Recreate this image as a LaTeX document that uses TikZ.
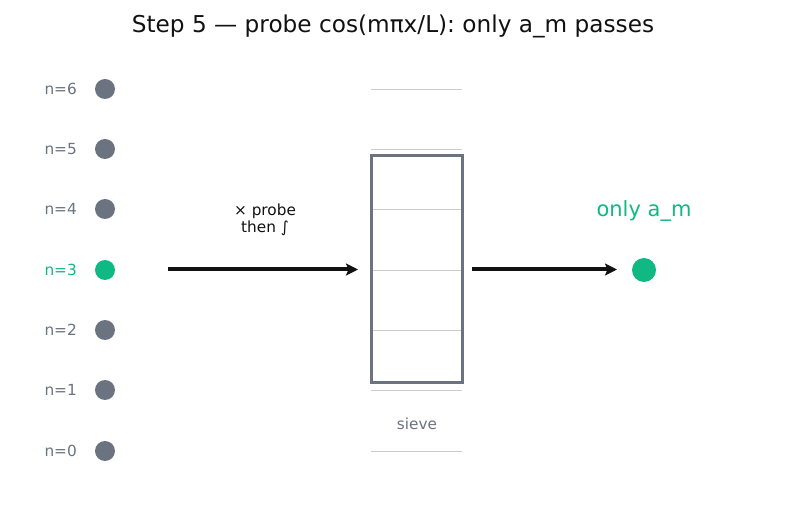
\documentclass[tikz,border=0pt]{standalone}
\usepackage{fontspec}
\setmainfont{DejaVu Sans}
\usetikzlibrary{arrows.meta}
\definecolor{slate}{HTML}{6B7280}
\definecolor{emer}{HTML}{10B981}
\definecolor{grid}{HTML}{CCCCCC}
\definecolor{ink}{HTML}{111111}
\begin{document}
\begin{tikzpicture}[x=1pt,y=-1pt,
  dot/.style={circle,fill=slate,minimum size=20pt,inner sep=0pt},
  nlabel/.style={anchor=east,text=slate,font=\fontsize{15.3}{18}\selectfont,inner sep=0pt},
  gridline/.style={grid,line width=0.9pt},
  flow/.style={ink,line width=4pt,-{Stealth[length=12pt,width=12pt,inset=2.5pt]}}]
\useasboundingbox (0,0) rectangle (787,510);
\node[font=\fontsize{23.2}{27}\selectfont,text=ink] (title) at (393,26) {Step 5 — probe cos(mπx/L): only a\_m passes};
% grid lines
\foreach \yy/\nm in {89/g6,149/g5,209/g4,270/g3,330/g2,390/g1,451/g0}{
  \coordinate (\nm l) at (371,\yy);
  \coordinate (\nm r) at (462,\yy);
  \draw[gridline] (\nm l) -- (\nm r);
}
% sieve box
\node[draw=slate,line width=3pt,minimum width=91pt,minimum height=227pt,inner sep=0pt] (box) at (416.5,269.5) {};
\node[text=slate,font=\fontsize{15.3}{18}\selectfont] (sieve) at (417,424) {sieve};
% modes
\foreach \k/\yy in {6/89,5/149,4/209,2/330,1/390,0/451}{
  \node[dot] (d\k) at (105,\yy) {};
  \node[nlabel] (l\k) at (77,\yy) {n=\k};
}
\node[dot,fill=emer] (d3) at (105,270) {};
\node[nlabel,text=emer] (l3) at (77,270) {n=3};
% arrows
\coordinate (a1s) at (168,269.5);
\coordinate (a1e) at (358,269.5);
\draw[flow] (a1s) -- (a1e);
\node[align=center,font=\fontsize{15.3}{17}\selectfont,text=ink] (probe) at (265,220) {× probe\\then ∫};
\node[circle,fill=emer,minimum size=24pt,inner sep=0pt] (out) at (644,270) {};
\coordinate (a2s) at (472,269.5);
\draw[flow] (a2s) -- (617,269.5);
\node[text=emer,font=\fontsize{21}{24}\selectfont] (only) at (644,211) {only a\_m};
\end{tikzpicture}
\end{document}
